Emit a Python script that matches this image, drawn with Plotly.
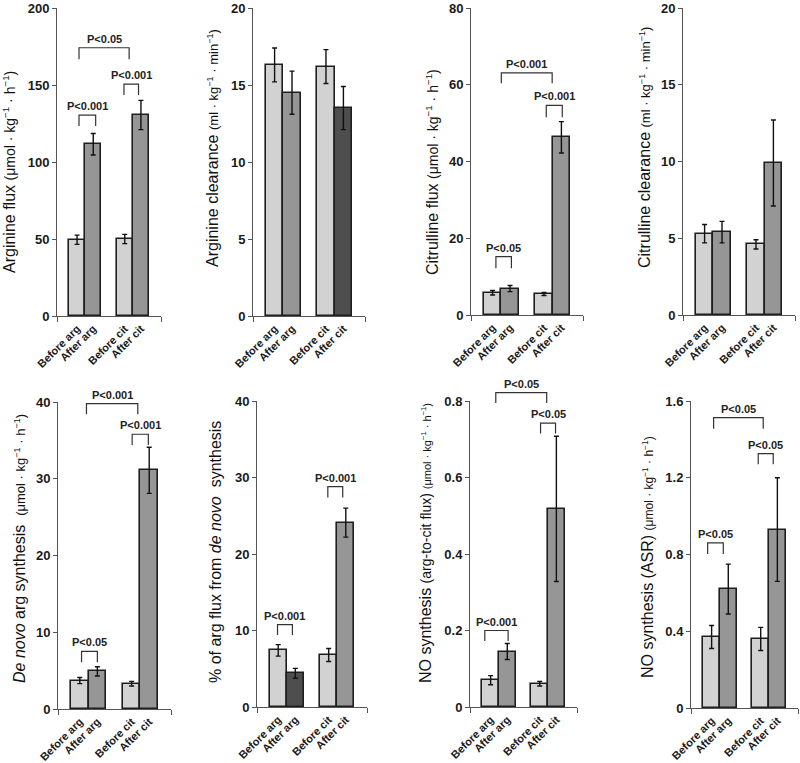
import plotly.graph_objects as go

# ---------------- data ----------------
categories = ["Before arg", "After arg", "Before cit", "After cit"]

arg_flux = [49.5, 111.5, 50.0, 130.5]
arg_flux_err = [3.0, 7.0, 3.0, 9.5]

arg_clear = [16.3, 14.5, 16.2, 13.5]
arg_clear_err = [1.1, 1.4, 1.1, 1.4]

cit_flux = [5.8, 6.9, 5.5, 46.3]
cit_flux_err = [0.6, 0.8, 0.4, 4.1]

cit_clear = [5.3, 5.4, 4.6, 9.9]
cit_clear_err = [0.6, 0.7, 0.3, 2.8]

denovo = [3.7, 4.9, 3.3, 31.1]
denovo_err = [0.4, 0.6, 0.3, 3.0]

pct_denovo = [7.4, 4.4, 6.8, 24.1]
pct_denovo_err = [0.75, 0.65, 0.85, 1.9]

no_argcit = [0.070, 0.145, 0.061, 0.518]
no_argcit_err = [0.012, 0.021, 0.006, 0.19]

no_asr = [0.37, 0.62, 0.36, 0.93]
no_asr_err = [0.06, 0.13, 0.06, 0.27]

y_max = [200, 20, 80, 20, 40, 40, 0.8, 1.6]
y_step = [50, 5, 20, 5, 10, 10, 0.2, 0.4]

# ---------------- styling ----------------
LIGHT, MED, DARK = "#d2d2d2", "#969696", "#4e4e4e"
FONT = "Liberation Sans, Arial, sans-serif"

def unit(txt, size=14):
    return "<span style='font-size:%dpx'>%s</span>" % (size, txt)

U_FLUX = "(μmol · kg<sup>−1</sup> · h<sup>−1</sup>)"
U_CLEAR = "(ml · kg<sup>−1</sup> · min<sup>−1</sup>)"

panels = [
    dict(v=arg_flux, e=arg_flux_err, c=[LIGHT, MED, LIGHT, MED],
         title="Arginine flux " + unit(U_FLUX),
         brackets=[(0.12, 3.22, 174.2, 166.7, "P<0.05"),
                   (0.12, 1.15, 130.5, 123.4, "P<0.001"),
                   (2.90, 3.80, 150.6, 143.5, "P<0.001")]),
    dict(v=arg_clear, e=arg_clear_err, c=[LIGHT, MED, LIGHT, DARK],
         title="Arginine clearance " + unit(U_CLEAR, 13), brackets=[]),
    dict(v=cit_flux, e=cit_flux_err, c=[LIGHT, MED, LIGHT, MED],
         title="Citrulline flux " + unit(U_FLUX),
         brackets=[(0.50, 3.42, 63.1, 60.4, "P<0.001"),
                   (3.08, 4.00, 54.6, 51.5, "P<0.001"),
                   (0.19, 1.08, 15.2, 12.2, "P<0.05")]),
    dict(v=cit_clear, e=cit_clear_err, c=[LIGHT, MED, LIGHT, MED],
         title="Citrulline clearance " + unit(U_CLEAR, 13), brackets=[]),
    dict(v=denovo, e=denovo_err, c=[LIGHT, MED, LIGHT, MED],
         title="<i>De novo</i> arg synthesis  " + unit(U_FLUX, 13),
         brackets=[(0.38, 3.30, 39.8, 38.4, "P<0.001"),
                   (2.98, 3.90, 35.8, 34.4, "P<0.001"),
                   (0.10, 1.00, 7.5, 6.1, "P<0.05")]),
    dict(v=pct_denovo, e=pct_denovo_err, c=[LIGHT, DARK, LIGHT, MED],
         title="% of arg flux from <i>de novo</i>  synthesis",
         brackets=[(2.90, 3.77, 28.8, 27.4, "P<0.001"),
                   (-0.04, 0.83, 10.76, 9.4, "P<0.001")]),
    dict(v=no_argcit, e=no_argcit_err, c=[LIGHT, MED, LIGHT, MED],
         title="NO synthesis " + unit("(arg-to-cit flux) ", 14) + unit(U_FLUX, 11),
         brackets=[(0.31, 3.37, 0.822, 0.795, "P<0.05"),
                   (3.00, 3.90, 0.742, 0.715, "P<0.05"),
                   (-0.35, 1.05, 0.200, 0.1725, "P<0.001")]),
    dict(v=no_asr, e=no_asr_err, c=[LIGHT, MED, LIGHT, MED],
         title="NO synthesis (ASR) " + unit(U_FLUX, 12),
         brackets=[(0.12, 3.10, 1.513, 1.456, "P<0.05"),
                   (2.80, 3.70, 1.326, 1.270, "P<0.05"),
                   (-0.24, 0.70, 0.861, 0.803, "P<0.05")]),
]

# pixel layout of plot areas (left, right, top, bottom) and title positions
W, H = 800, 763
areas = [(57, 161, 8, 316), (253, 365, 8, 316), (471, 583, 8, 315), (683, 795, 8, 315),
         (58, 171, 402, 709), (257, 367, 401, 707), (470, 577, 401, 707), (691, 798, 401, 708)]
title_pos = [(9, 172), (213, 148), (432, 172), (645, 148),
             (19, 549), (215, 552), (425, 543), (647, 557)]

# bar positions derived from category index (pairs with a gap)
pos = [i + (0.95 if i >= 2 else 0.0) for i in range(len(categories))]
x_lo, x_hi = pos[0] - 0.5 - 0.74, pos[-1] + 0.5 + 0.74

fig = go.Figure()
annotations = []
shapes = []
layout = {}

for k, p in enumerate(panels):
    n = k + 1
    xa = "x" if n == 1 else "x%d" % n
    ya = "y" if n == 1 else "y%d" % n
    l, r, t, b = areas[k]
    d0, d1 = 1 - b / H, 1 - t / H

    def to_paper(val, d0=d0, d1=d1, m=y_max[k]):
        return d0 + (val / m) * (d1 - d0)

    fig.add_trace(go.Bar(
        x=pos, y=p["v"], width=1.0, xaxis=xa, yaxis=ya,
        marker=dict(color=p["c"], line=dict(color="#1e1e1e", width=1.6)),
        error_y=dict(type="data", array=p["e"], color="#111111", thickness=1.4, width=2.5),
        hoverinfo="skip",
    ))
    for (x1, x2, ytop, ybot, txt) in p["brackets"]:
        yt, yb = to_paper(ytop), to_paper(ybot)
        shapes.append(dict(type="path", xref=xa, yref="paper",
                           path="M %f,%f L %f,%f L %f,%f L %f,%f" % (x1, yb, x1, yt, x2, yt, x2, yb),
                           line=dict(color="#333333", width=1.2)))
        annotations.append(dict(
            x=(x1 + x2) / 2, y=yt, xref=xa, yref="paper", text="<b>%s</b>" % txt,
            showarrow=False, yanchor="bottom", yshift=1,
            font=dict(family=FONT, size=11, color="#222222")))
    ticks = []
    v = 0.0
    while v <= y_max[k] + 1e-9:
        ticks.append(round(v, 4))
        v += y_step[k]
    ticktext = [("%g" % tv) for tv in ticks]
    layout["xaxis" if n == 1 else "xaxis%d" % n] = dict(
        domain=[l / W, r / W], anchor=ya, range=[x_lo, x_hi], automargin=False,
        tickvals=pos, ticktext=categories, tickangle=-45, ticks="", ticklabelstandoff=1,
        tickfont=dict(family=FONT, size=11, color="#1a1a1a", weight="bold"),
        showline=True, linecolor="#555555", linewidth=1, showgrid=False, zeroline=False,
        minor=dict(tickvals=[x_lo, x_hi], ticks="outside", ticklen=5, tickcolor="#555555"),
        fixedrange=True)
    layout["yaxis" if n == 1 else "yaxis%d" % n] = dict(
        domain=[d0, d1], anchor=xa, range=[0, y_max[k]], automargin=False,
        tickvals=ticks, ticktext=ticktext, ticks="outside", ticklen=4, tickcolor="#555555",
        tickfont=dict(family=FONT, size=13, color="#1a1a1a", weight="bold"),
        showline=True, linecolor="#555555", linewidth=1, showgrid=False, zeroline=False,
        fixedrange=True)
    tx, ty = title_pos[k]
    annotations.append(dict(
        x=tx / W, y=1 - ty / H, xref="paper", yref="paper", text=p["title"],
        textangle=-90, showarrow=False, xanchor="center", yanchor="middle",
        font=dict(family=FONT, size=16, color="#111111")))

fig.update_layout(
    width=W, height=H, margin=dict(l=0, r=0, t=0, b=0),
    paper_bgcolor="white", plot_bgcolor="white", showlegend=False,
    bargap=0, annotations=annotations, shapes=shapes, **layout)

fig.write_html("out.html", config={"displayModeBar": False},
               post_script="document.body.style.margin='0px';document.body.style.overflow='hidden';")
